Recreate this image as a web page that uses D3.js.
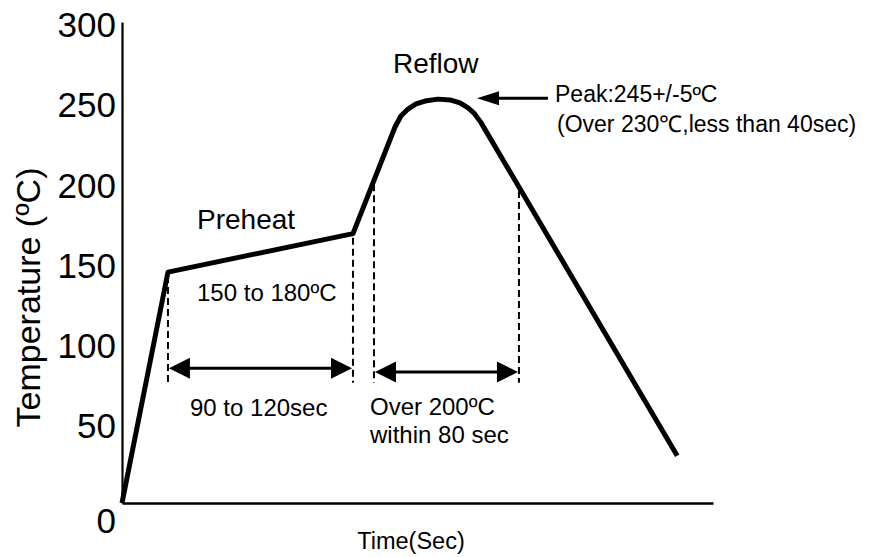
<!DOCTYPE html>
<html>
<head>
<meta charset="utf-8">
<script src="https://cdn.jsdelivr.net/npm/d3@7"></script>
<style>
  body { margin: 0; background: #fff; }
  svg text { font-family: "Liberation Sans", Arial, sans-serif; fill: #000; }
</style>
</head>
<body>
<div id="chart"></div>
<script>
// reflow profile (time in sec, temperature in degC)
const profileTime = [0, 28, 140.7, 166.3, 169.9, 174.2, 179.1, 184.6, 192.5, 199.8, 205.9, 210.8, 214.4, 218.6, 338.2];
const profileTemp = [0, 144, 168, 234.5, 241.4, 245.7, 248.9, 250.7, 251.9, 251.4, 249.5, 246.4, 243.2, 237.4, 29.5];
const yTicks = [0, 50, 100, 150, 200, 250, 300];

// annotated time spans
const preheatSpan = [28, 140.7];
const reflowSpan = [153.5, 241.8];

const labels = {
  yTitle: "Temperature (ºC)",
  xTitle: "Time(Sec)",
  preheat: "Preheat",
  preheatTemp: "150 to 180ºC",
  preheatTime: "90 to 120sec",
  reflow: "Reflow",
  reflowTime: ["Over 200ºC", "within 80 sec"],
  peak: "Peak:245+/-5ºC",
  peakNote: "(Over 230℃,less than 40sec)"
};

const width = 872, height = 557;

const x = d3.scaleLinear().domain([0, 360]).range([122, 713]);
const y = d3.scaleLinear().domain([0, 300]).range([503, 22]);

const svg = d3.select("#chart").append("svg")
  .attr("width", width)
  .attr("height", height);

// axes
const yAxis = svg.append("g")
  .attr("transform", `translate(${x(0)},0)`)
  .call(d3.axisLeft(y).tickValues(yTicks).tickSize(0).tickPadding(6).tickSizeOuter(0));
yAxis.select(".domain").attr("stroke", "#000").attr("stroke-width", 2.2);
yAxis.selectAll(".tick text")
  .attr("font-size", 35)
  .attr("dy", d => d === 0 ? "0.85em" : "0.42em")
  .style("font-family", "'Liberation Sans', Arial, sans-serif");

const xAxis = svg.append("g")
  .attr("transform", `translate(0,${y(0)})`)
  .call(d3.axisBottom(x).tickValues([]).tickSizeOuter(0));
xAxis.select(".domain").attr("stroke", "#000").attr("stroke-width", 2.6);

svg.append("text")
  .attr("transform", `translate(40,${(y(0) + y(300)) / 2 + 35}) rotate(-90)`)
  .attr("text-anchor", "middle")
  .attr("font-size", 34)
  .text(labels.yTitle);

svg.append("text")
  .attr("x", 411).attr("y", 549)
  .attr("text-anchor", "middle")
  .attr("font-size", 23.5)
  .text(labels.xTitle);

// dashed guides, from the curve down
const profile = profileTime.map((t, i) => [t, profileTemp[i]]);
function tempAt(t) {
  for (let i = 1; i < profile.length; i++) {
    if (t <= profile[i][0]) {
      const [t0, v0] = profile[i - 1], [t1, v1] = profile[i];
      return v0 + (v1 - v0) * (t - t0) / (t1 - t0);
    }
  }
  return 0;
}
const guideBottom = 75;
const guides = [...preheatSpan, ...reflowSpan];
svg.selectAll("line.guide")
  .data(guides)
  .enter().append("line")
  .attr("class", "guide")
  .attr("x1", d => x(d)).attr("x2", d => x(d))
  .attr("y1", d => y(tempAt(d)) + 4)
  .attr("y2", y(guideBottom))
  .attr("stroke", "#000")
  .attr("stroke-width", 2)
  .attr("stroke-dasharray", "7,4");

// profile line
const line = d3.line()
  .x(d => x(d[0]))
  .y(d => y(d[1]))
  .curve(d3.curveLinear);

svg.append("path")
  .datum(profile)
  .attr("d", line)
  .attr("fill", "none")
  .attr("stroke", "#000")
  .attr("stroke-width", 5)
  .attr("stroke-linejoin", "round");

// double-headed arrows
function doubleArrow(x1, x2, yy) {
  const hl = 21, hh = 10.5;
  svg.append("line")
    .attr("x1", x1 + hl - 2).attr("x2", x2 - hl + 2)
    .attr("y1", yy).attr("y2", yy)
    .attr("stroke", "#000").attr("stroke-width", 3);
  svg.append("path")
    .attr("d", `M${x1},${yy}L${x1 + hl},${yy - hh}L${x1 + hl},${yy + hh}Z`)
    .attr("fill", "#000");
  svg.append("path")
    .attr("d", `M${x2},${yy}L${x2 - hl},${yy - hh}L${x2 - hl},${yy + hh}Z`)
    .attr("fill", "#000");
}
doubleArrow(x(preheatSpan[0]) + 1, x(preheatSpan[1]) - 1, y(84));
doubleArrow(x(reflowSpan[0]) + 1, x(reflowSpan[1]) - 1, y(81.7));

// peak pointer
const peakY = y(252.5);
svg.append("line")
  .attr("x1", 498).attr("x2", 548)
  .attr("y1", peakY).attr("y2", peakY)
  .attr("stroke", "#000").attr("stroke-width", 3);
svg.append("path")
  .attr("d", `M477,${peakY}L499,${peakY - 7}L499,${peakY + 7}Z`)
  .attr("fill", "#000");

// text annotations
const notes = [
  { t: labels.preheat, x: 197, y: 229, s: 28 },
  { t: labels.preheatTemp, x: 197, y: 301, s: 24 },
  { t: labels.preheatTime, x: 190, y: 416, s: 24 },
  { t: labels.reflowTime[0], x: 370, y: 415, s: 24 },
  { t: labels.reflowTime[1], x: 370, y: 443, s: 24 },
  { t: labels.reflow, x: 393, y: 73, s: 28 },
  { t: labels.peak, x: 555, y: 102, s: 23 },
  { t: labels.peakNote, x: 557, y: 132, s: 23 }
];
svg.selectAll("text.note")
  .data(notes)
  .enter().append("text")
  .attr("class", "note")
  .attr("x", d => d.x)
  .attr("y", d => d.y)
  .attr("font-size", d => d.s)
  .text(d => d.t);
</script>
</body>
</html>
